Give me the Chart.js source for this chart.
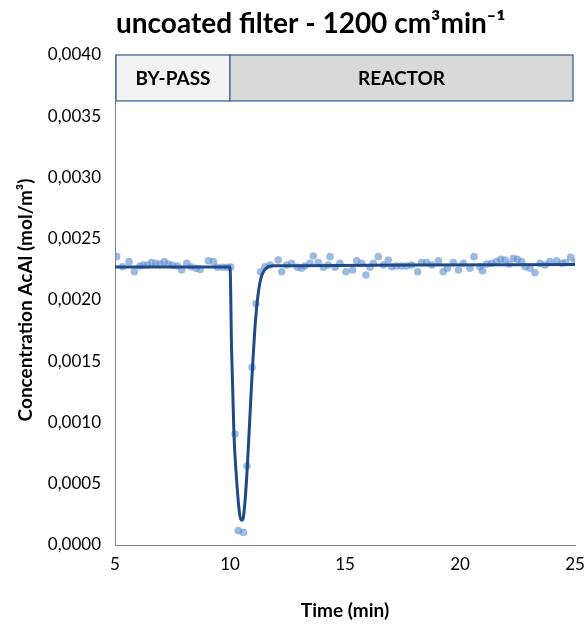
<!DOCTYPE html>
<html>
<head>
<meta charset="utf-8">
<script src="https://cdn.jsdelivr.net/npm/chart.js@4/dist/chart.umd.min.js"></script>
<style>
html,body{margin:0;padding:0;background:#fff;}
#wrap{width:588px;height:628px;position:relative;}
</style>
</head>
<body>
<div id="wrap"><canvas id="c" width="588" height="628"></canvas></div>
<script>
// ---- data ----
const titleText = "uncoated filter - 1200 cm\u00B3min\u207B\u00B9";
const xAxisTitle = "Time (min)";
const yAxisTitle = "Concentration AcAl (mol/m\u00B3)";

const measTime = [5.07,5.33,5.61,5.84,6.09,6.23,6.41,6.59,6.77,6.96,7.14,7.32,7.5,7.72,7.9,8.12,8.3,8.52,8.7,9.06,9.28,9.45,9.68,9.88,10.03,
  10.22,10.36,10.58,10.74,10.96,11.13,11.33,11.52,11.74,12.1,12.25,12.46,12.68,12.93,13.11,13.26,13.48,13.62,13.84,14.06,14.27,14.35,14.57,14.78,15.04,
  15.33,15.51,15.72,15.91,16.09,16.23,16.45,16.67,16.88,17.03,17.24,17.46,17.68,17.9,18.16,18.33,18.55,18.77,19.06,19.27,19.45,19.71,19.93,20.14,
  20.43,20.61,20.87,20.98,21.16,21.38,21.59,21.77,21.96,22.14,22.32,22.49,22.68,22.83,23.04,23.26,23.48,23.7,23.91,24.2,24.42,24.6,24.81,25.0];
const measConc = [0.002354,0.002272,0.002313,0.002231,0.002278,0.002286,0.002286,0.002305,0.0023,0.002294,0.002313,0.002294,0.002283,0.002278,0.002245,0.0023,0.002272,0.002259,0.00225,0.002321,0.002313,0.002267,0.002267,0.002267,0.00227,
  0.000906,0.000117,0.000103,0.000645,0.00145,0.00197,0.002231,0.002272,0.002286,0.002327,0.002231,0.002286,0.0023,0.002267,0.002259,0.002278,0.0023,0.002359,0.002305,0.002267,0.002286,0.002354,0.002267,0.0023,0.002231,
  0.002245,0.002321,0.0023,0.002204,0.002267,0.0023,0.002354,0.002286,0.002327,0.002272,0.002278,0.002278,0.002278,0.002286,0.002231,0.002305,0.002305,0.002286,0.002321,0.002231,0.002259,0.002305,0.002245,0.0023,
  0.002259,0.002354,0.002272,0.002239,0.002294,0.0023,0.002313,0.002332,0.002327,0.002294,0.00234,0.002332,0.002313,0.002272,0.002259,0.002223,0.0023,0.002286,0.002313,0.002321,0.0023,0.002305,0.002349,0.002313];

const modelTime = [5, 10.0, 10.07, 10.17, 10.3, 10.4, 10.47, 10.55, 10.64, 10.75, 10.94, 11.12, 11.3, 11.52, 11.88, 13, 18, 25];
const modelConc = [0.00227, 0.00227, 0.00159, 0.00091, 0.00050, 0.00028, 0.000205, 0.000205, 0.00033, 0.00063, 0.00132, 0.00186, 0.00214, 0.00225, 0.00228, 0.00228, 0.002285, 0.00229];

const phaseNames = ["BY-PASS", "REACTOR"];
const phaseStart = [5, 10];
const phaseEnd = [10, 25];
const phaseFill = ["#F2F2F2", "#D9D9D9"];
const phaseTopConc = 0.0040;
const phaseBottomConc = 0.003625;

const xMin = 5, xMax = 25, xStep = 5;
const yMin = 0, yMax = 0.004, yStep = 0.0005;

// ---- chart ----
const FONT = "Lato, 'Open Sans', sans-serif";

const phasePlugin = {
  id: 'phases',
  beforeDatasetsDraw(chart) {
    const {ctx, scales:{x, y}} = chart;
    ctx.save();
    for (let i = 0; i < phaseNames.length; i++) {
      const l = x.getPixelForValue(phaseStart[i]) + (i === 0 ? 1 : 0);
      const r = x.getPixelForValue(phaseEnd[i]) - (i === phaseNames.length - 1 ? 2 : 0);
      const t = y.getPixelForValue(phaseTopConc);
      const b = y.getPixelForValue(phaseBottomConc);
      ctx.fillStyle = phaseFill[i];
      ctx.fillRect(l, t, r - l, b - t);
      ctx.strokeStyle = '#41659A';
      ctx.lineWidth = 1.3;
      ctx.strokeRect(l, t, r - l, b - t);
      ctx.fillStyle = '#000';
      ctx.font = "bold 19px " + FONT;
      ctx.textAlign = 'center';
      ctx.textBaseline = 'middle';
      ctx.fillText(phaseNames[i], (l + r) / 2, (t + b) / 2 + 1);
    }
    ctx.restore();
  }
};

const textPlugin = {
  id: 'texts',
  afterDraw(chart) {
    const {ctx, chartArea} = chart;
    ctx.save();
    ctx.fillStyle = '#000';
    ctx.font = "bold 28px " + FONT;
    ctx.textAlign = 'left';
    ctx.textBaseline = 'alphabetic';
    ctx.fillText(titleText, 116, 33);
    ctx.font = "bold 19px " + FONT;
    ctx.textAlign = 'center';
    ctx.textBaseline = 'middle';
    ctx.fillText(xAxisTitle, (chartArea.left + chartArea.right) / 2, 611);
    ctx.translate(26, (chartArea.top + chartArea.bottom) / 2);
    ctx.rotate(-Math.PI / 2);
    ctx.fillText(yAxisTitle, 0, 0);
    ctx.restore();
  }
};

new Chart(document.getElementById('c'), {
  type: 'scatter',
  data: {
    datasets: [
      {
        type: 'line',
        label: 'model',
        data: modelTime.map((t, i) => ({x: t, y: modelConc[i]})),
        borderColor: '#1F4A87',
        borderWidth: 3,
        pointRadius: 0,
        fill: false,
        cubicInterpolationMode: 'monotone',
        order: 1
      },
      {
        label: 'measured',
        data: measTime.map((t, i) => ({x: t, y: measConc[i]})),
        backgroundColor: 'rgba(91,141,206,0.6)',
        borderColor: 'rgba(91,141,206,0)',
        pointRadius: 3.8,
        order: 2
      }
    ]
  },
  options: {
    responsive: false,
    animation: false,
    devicePixelRatio: 1,
    layout: {padding: {left: 0, right: 13, top: 55, bottom: 0}},
    plugins: {legend: {display: false}, tooltip: {enabled: false}, title: {display: false}},
    scales: {
      x: {
        type: 'linear', min: xMin, max: xMax,
        grid: {display: false, drawOnChartArea: false, drawTicks: true, tickLength: 6, tickColor: '#868686'},
        border: {color: '#868686', width: 1},
        ticks: {stepSize: xStep, color: '#000', font: {family: FONT, size: 17}, padding: 3, maxRotation: 0},
        afterFit(s) { s.height = 83; }
      },
      y: {
        type: 'linear', min: yMin, max: yMax,
        grid: {display: false, drawOnChartArea: false, drawTicks: true, tickLength: 9, tickColor: '#868686'},
        border: {color: '#868686', width: 1},
        ticks: {stepSize: yStep, color: '#000', font: {family: FONT, size: 17}, padding: 5,
          callback: v => v.toFixed(4).replace('.', ',')},
        afterFit(s) { s.width = 115; }
      }
    }
  },
  plugins: [phasePlugin, textPlugin]
});
</script>
</body>
</html>
